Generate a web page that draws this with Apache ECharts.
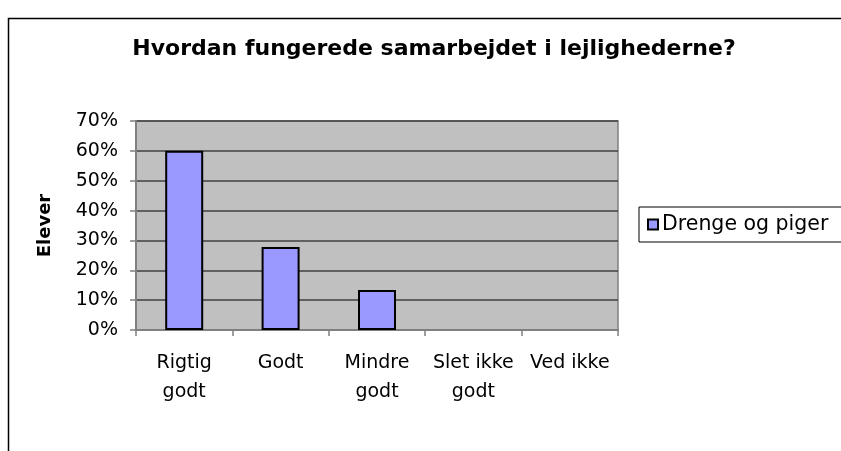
<!DOCTYPE html>
<html>
<head>
<meta charset="utf-8">
<script src="https://cdn.jsdelivr.net/npm/echarts@6/dist/echarts.min.js"></script>
<style>
html,body{margin:0;padding:0;background:#fff;}
#c{width:841px;height:451px;}
</style>
</head>
<body>
<div id="c"></div>
<script>
const title = 'Hvordan fungerede samarbejdet i lejlighederne?';
const categories = ['Rigtig\ngodt', 'Godt', 'Mindre\ngodt', 'Slet ikke\ngodt', 'Ved ikke'];
const seriesName = 'Drenge og piger';
const values = [60, 27.8, 13.4, 0, 0];
const yTicks = { min: 0, max: 70, interval: 10 };
const yAxisName = 'Elever';

const chart = echarts.init(document.getElementById('c'), null, { renderer: 'canvas' });
const font = '"DejaVu Sans", sans-serif';
chart.setOption({
  animation: false,
  textStyle: { fontFamily: font },
  title: {
    text: title,
    left: 429, top: 33, textAlign: 'center',
    textStyle: { fontFamily: font, fontSize: 22, fontWeight: 'bold', color: '#000' }
  },
  graphic: [{
    type: 'rect',
    shape: { x: 8.5, y: 18.5, width: 900, height: 500 },
    style: { fill: null, stroke: '#000', lineWidth: 1.5 },
    z: -1
  }],
  legend: {
    left: 639, top: 207,
    orient: 'vertical',
    data: [seriesName],
    icon: 'rect',
    itemWidth: 10, itemHeight: 10, itemGap: 6,
    padding: [7, 30, 7, 8],
    borderColor: '#000', borderWidth: 1,
    textStyle: { fontFamily: font, fontSize: 20.5, color: '#000', padding: [0, 0, 0, -1] }
  },
  grid: { left: 136, right: 223, top: 121, bottom: 121, show: true, backgroundColor: '#C0C0C0', borderColor: '#808080', borderWidth: 1.5 },
  xAxis: {
    type: 'category',
    data: categories,
    boundaryGap: true,
    axisLine: { lineStyle: { color: '#808080', width: 2 } },
    axisTick: { show: true, length: 6, interval: 0, lineStyle: { color: '#808080', width: 1.5 } },
    axisLabel: { interval: 0, fontFamily: font, fontSize: 19, color: '#000', lineHeight: 29, margin: 19 }
  },
  yAxis: {
    type: 'value',
    min: yTicks.min, max: yTicks.max, interval: yTicks.interval,
    name: yAxisName,
    nameLocation: 'middle',
    nameGap: 82,
    nameRotate: 90,
    nameTextStyle: { fontFamily: font, fontSize: 18, fontWeight: 'bold', color: '#000' },
    axisLine: { show: true, lineStyle: { color: '#808080', width: 2 } },
    axisTick: { show: true, length: 6, lineStyle: { color: '#808080', width: 1.5 } },
    axisLabel: { formatter: '{value}%', fontFamily: font, fontSize: 19, color: '#000', margin: 18 },
    splitLine: { show: true, lineStyle: { color: '#404040', width: 1.5 } }
  },
  series: [{
    name: seriesName,
    type: 'bar',
    data: values.map(v => v === 0 ? { value: v, itemStyle: { borderWidth: 0 } } : v),
    barWidth: 38,
    itemStyle: { color: '#9999FF', borderColor: '#000', borderWidth: 2 }
  }]
});
</script>
</body>
</html>
